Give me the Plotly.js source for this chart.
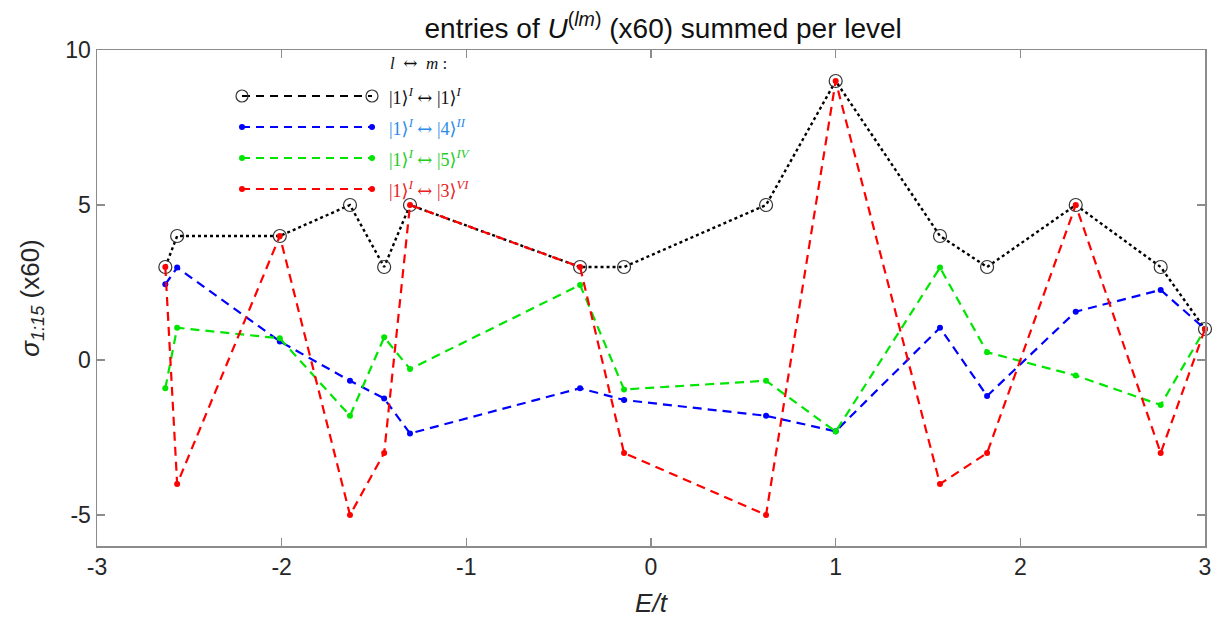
<!DOCTYPE html>
<html>
<head>
<meta charset="utf-8">
<script src="https://cdn.plot.ly/plotly-3.0.1.min.js"></script>
<style>html,body{margin:0;padding:0;background:#fff;}#chart{width:1230px;height:626px;}</style>
</head>
<body>
<div id="chart"></div>
<script>
// Energy levels E/t
var energies = [-2.63, -2.566, -2.01, -1.63, -1.445, -1.305, -0.384, -0.146, 0.623, 1.0, 1.565, 1.82, 2.30, 2.76, 3.0];
// series values (x60)
var s11 = [3, 4, 4, 5, 3, 5, 3, 3, 5, 9, 4, 3, 5, 3, 1];
var s14 = [2.44, 2.98, 0.6, -0.67, -1.24, -2.37, -0.91, -1.29, -1.8, -2.3, 1.04, -1.16, 1.56, 2.26, 1];
var s15 = [-0.91, 1.04, 0.70, -1.8, 0.73, -0.29, 2.42, -0.95, -0.67, -2.31, 2.98, 0.25, -0.5, -1.45, 1];
var s13 = [3, -4, 4, -5, -3, 5, 3, -3, -5, 9, -4, -3, 5, -3, 1];
var xTicks = [-3, -2, -1, 0, 1, 2, 3];
var yTicks = [-5, 0, 5, 10];
var arrow = '<span style="font-family:DejaVu Serif">\u2194</span>';
var legendLabels = [
  '|1\u27E9<sup><i>I</i></sup> ' + arrow + ' |1\u27E9<sup><i>I</i></sup>',
  '|1\u27E9<sup><i>I</i></sup> ' + arrow + ' |4\u27E9<sup><i>II</i></sup>',
  '|1\u27E9<sup><i>I</i></sup> ' + arrow + ' |5\u27E9<sup><i>IV</i></sup>',
  '|1\u27E9<sup><i>I</i></sup> ' + arrow + ' |3\u27E9<sup><i>VI</i></sup>'
];
var lineColors = ['#000000', '#0000ff', '#00e600', '#ff0000'];
var textColors = ['#111111', '#2a8be8', '#22cc22', '#e62222'];

var dashStyle = '9px,6px';
var traces = [
  {x: energies, y: s11, mode: 'lines+markers', line: {color: '#000', width: 2.4, dash: 'dot'},
   marker: {symbol: 'circle-open', size: 13, color: '#333', line: {width: 1.2}}, cliponaxis: false},
  {x: energies, y: s14, mode: 'lines+markers', line: {color: lineColors[1], width: 2.2, dash: dashStyle},
   marker: {size: 6, color: lineColors[1]}, cliponaxis: false},
  {x: energies, y: s15, mode: 'lines+markers', line: {color: lineColors[2], width: 2.2, dash: dashStyle},
   marker: {size: 6, color: lineColors[2]}, cliponaxis: false},
  {x: energies, y: s13, mode: 'lines+markers', line: {color: lineColors[3], width: 2.2, dash: dashStyle},
   marker: {size: 6, color: lineColors[3]}, cliponaxis: false}
];

// custom legend (paper coords)
var shapes = [];
var annotations = [];
var x0 = (242 - 97) / 1108, x1 = (372 - 97) / 1108;
var rowsPx = [96, 127, 158, 189];
function py(p) { return (546 - p) / 496; }
for (var i = 0; i < 4; i++) {
  var yy = py(rowsPx[i]);
  shapes.push({type: 'line', xref: 'paper', yref: 'paper', x0: x0, x1: x1, y0: yy, y1: yy,
    line: {color: lineColors[i], width: 2.2, dash: '8px,6px'}});
  if (i === 0) {
    [x0, x1].forEach(function (xx) {
      shapes.push({type: 'circle', xref: 'paper', yref: 'paper', xsizemode: 'pixel', ysizemode: 'pixel',
        xanchor: xx, yanchor: yy, x0: -6, x1: 6, y0: -6, y1: 6, line: {color: '#333', width: 1.2}});
    });
  } else {
    [x0, x1].forEach(function (xx) {
      shapes.push({type: 'circle', xref: 'paper', yref: 'paper', xsizemode: 'pixel', ysizemode: 'pixel',
        xanchor: xx, yanchor: yy, x0: -3, x1: 3, y0: -3, y1: 3, fillcolor: lineColors[i], line: {color: lineColors[i], width: 0}});
    });
  }
  annotations.push({xref: 'paper', yref: 'paper', x: (387 - 97) / 1108, y: yy, xanchor: 'left', yanchor: 'middle',
    showarrow: false, text: legendLabels[i], font: {family: 'Liberation Serif, DejaVu Serif, serif', size: 18, color: textColors[i]}});
}
annotations.push({xref: 'paper', yref: 'paper', x: (388 - 97) / 1108, y: py(63), xanchor: 'left', yanchor: 'middle',
  showarrow: false, text: '<i>l</i>  ' + arrow + '  <i>m</i> :', font: {family: 'Liberation Serif, DejaVu Serif, serif', size: 17, color: '#111'}});

var axisCommon = {
  showgrid: false, zeroline: false, showline: true, linecolor: '#8c8c8c', linewidth: 1.5,
  mirror: 'ticks', ticks: 'inside', ticklen: 8, tickcolor: '#8c8c8c', tickwidth: 1.2,
  tickfont: {family: 'Liberation Sans, Arial, sans-serif', size: 23, color: '#262626'}
};

var layout = {
  width: 1230, height: 626,
  margin: {l: 97, r: 25, t: 50, b: 80},
  paper_bgcolor: '#fff', plot_bgcolor: '#fff',
  showlegend: false,
  title: {text: 'entries of <i>U</i><sup>(<i>lm</i>)</sup> (x60) summed per level', x: 0.511, xref: 'paper', xanchor: 'center', y: 0.955, yanchor: 'middle',
    font: {family: 'Liberation Sans, Arial, sans-serif', size: 28, color: '#111'}},
  xaxis: Object.assign({}, axisCommon, {range: [-3, 3], tickvals: xTicks, ticktext: xTicks.map(String),
    title: {text: '<i>E/t</i>', standoff: 14, font: {family: 'Liberation Sans, Arial, sans-serif', size: 26, color: '#262626'}}}),
  yaxis: Object.assign({}, axisCommon, {range: [-6, 10], tickvals: yTicks, ticktext: yTicks.map(String),
    title: {text: '<i>\u03C3</i><sub><i>1:15</i></sub> (x60)', standoff: 18, font: {family: 'Liberation Sans, Arial, sans-serif', size: 26, color: '#262626'}}}),
  shapes: shapes,
  annotations: annotations
};

Plotly.newPlot('chart', traces, layout, {displayModeBar: false, staticPlot: true});
</script>
</body>
</html>
